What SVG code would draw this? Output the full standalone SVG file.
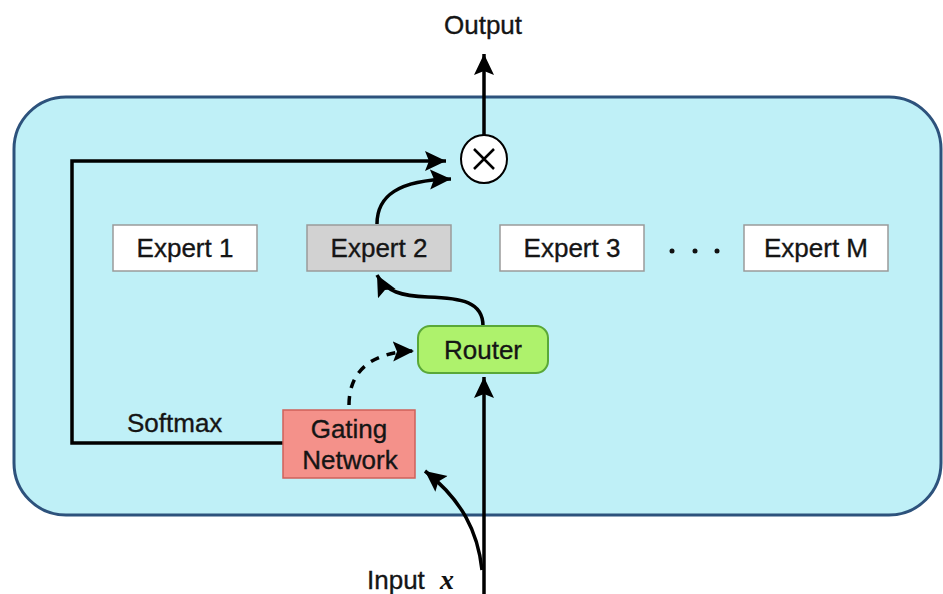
<svg xmlns="http://www.w3.org/2000/svg" width="943" height="594" viewBox="0 0 943 594">
  <style>
    .lbl { font-family: "Liberation Sans", Arial, Helvetica, sans-serif; font-size: 26px; fill: #151515; stroke: #151515; stroke-width: 0.35; }
    .mid { text-anchor: middle; }
    .expert { fill: #ffffff; stroke: #9a9a9a; stroke-width: 1.5; }
    .wire { fill: none; stroke: #000; stroke-width: 3.5; }
  </style>
  <defs>
    <marker id="head" markerUnits="userSpaceOnUse" markerWidth="24" markerHeight="22" refX="21" refY="10" orient="auto">
      <path d="M0,0 L21,10 L0,20 L4,10 Z" fill="#000"/>
    </marker>
  </defs>

  <!-- outer module -->
  <g id="module">
    <rect x="14" y="97" width="927" height="418" rx="52" ry="52" fill="#bff0f7" stroke="#2d527c" stroke-width="3"/>
  </g>

  <!-- connectors -->
  <g id="connectors">
    <path class="wire" d="M484,135 L484,54" marker-end="url(#head)"/>
    <path class="wire" d="M284,443 L72,443 L72,161 L446,161" marker-end="url(#head)"/>
    <path class="wire" d="M377,224 C377,196 398,180 451,179" marker-end="url(#head)"/>
    <path class="wire" d="M483,326 C483,302 462,298 428,297 C402,296 386,292 377,275" marker-end="url(#head)"/>
    <path class="wire" d="M349,405 C349,372 370,352 414,351" stroke-dasharray="9,8" marker-end="url(#head)"/>
    <path class="wire" d="M484,594 L484,377" marker-end="url(#head)"/>
    <path class="wire" d="M482,570 C478,532 462,500 425,471" marker-end="url(#head)"/>
  </g>

  <!-- multiply node -->
  <g id="combine">
    <ellipse cx="484" cy="159" rx="23" ry="24" fill="#ffffff" stroke="#000" stroke-width="2"/>
    <path d="M474,149 L494,169 M494,149 L474,169" stroke="#000" stroke-width="2.5" fill="none"/>
  </g>

  <g id="output-label">
    <text class="lbl mid" x="483" y="34">Output</text>
  </g>

  <!-- experts -->
  <g id="expert1">
    <rect class="expert" x="113" y="225" width="144" height="46"/>
    <text class="lbl mid" x="185" y="257">Expert 1</text>
  </g>
  <g id="expert2">
    <rect class="expert" x="307" y="225" width="144" height="46" style="fill:#d2d2d2"/>
    <text class="lbl mid" x="379" y="257">Expert 2</text>
  </g>
  <g id="expert3">
    <rect class="expert" x="500" y="225" width="144" height="46"/>
    <text class="lbl mid" x="572" y="257">Expert 3</text>
  </g>
  <g id="ellipsis">
    <circle cx="672" cy="251" r="2.5" fill="#111"/>
    <circle cx="695" cy="251" r="2.5" fill="#111"/>
    <circle cx="717" cy="251" r="2.5" fill="#111"/>
  </g>
  <g id="expertM">
    <rect class="expert" x="744" y="225" width="144" height="46"/>
    <text class="lbl mid" x="816" y="257">Expert M</text>
  </g>

  <!-- router -->
  <g id="router">
    <rect x="418" y="326" width="130" height="47" rx="12" ry="12" fill="#aef26c" stroke="#5aa838" stroke-width="2"/>
    <text class="lbl mid" x="483" y="359">Router</text>
  </g>

  <!-- gating network -->
  <g id="gating">
    <rect x="283" y="410" width="132" height="68" fill="#f4918a" stroke="#d0605a" stroke-width="1.5"/>
    <text class="lbl mid" x="349" y="438">Gating</text>
    <text class="lbl mid" x="350" y="469">Network</text>
  </g>

  <g id="softmax-label">
    <text class="lbl" x="127" y="432">Softmax</text>
  </g>

  <g id="input-label">
    <text class="lbl" x="367" y="589">Input</text>
    <text x="440" y="589" style="font-family:'Liberation Serif','Times New Roman',serif;font-size:28px;font-style:italic;font-weight:bold;fill:#111">x</text>
  </g>
</svg>
